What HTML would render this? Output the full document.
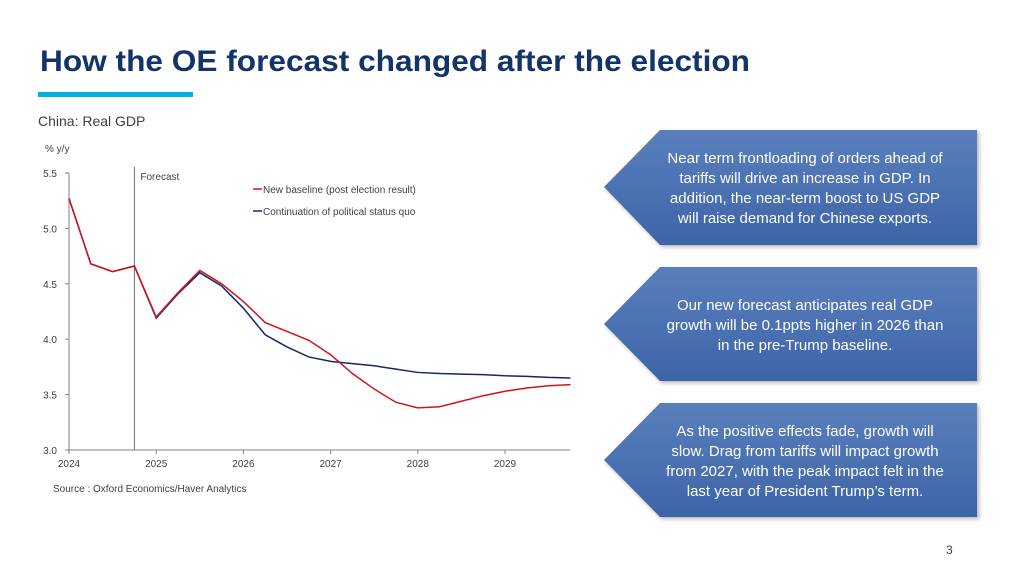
<!DOCTYPE html>
<html><head><meta charset="utf-8"><style>
body{margin:0;background:#fff;font-family:"Liberation Sans",sans-serif;}
#wrap{position:relative;width:1024px;height:576px;overflow:hidden;background:#fff;}
</style></head><body>
<div id="wrap">
<svg id="svg" width="1024" height="576" viewBox="0 0 1024 576">
<defs>
<linearGradient id="g" x1="0" y1="0" x2="0" y2="1"><stop offset="0" stop-color="#5a7fbd"/><stop offset="1" stop-color="#3d64a8"/></linearGradient>
<filter id="sh" x="-10%" y="-10%" width="130%" height="130%"><feDropShadow dx="2" dy="2" stdDeviation="2" flood-color="#000" flood-opacity="0.3"/></filter>
</defs>
<text x="40" y="71" font-size="30" font-weight="bold" fill="#13336b" textLength="710" lengthAdjust="spacingAndGlyphs">How the OE forecast changed after the election</text>
<rect x="38" y="92" width="155" height="5" fill="#00b0e0"/>
<text x="38" y="126" font-size="14" fill="#404040">China: Real GDP</text>
<text x="45" y="152" font-size="10" fill="#404040">% y/y</text>
<text x="53" y="492" font-size="10" fill="#404040">Source : Oxford Economics/Haver Analytics</text>
<g id="chart"></g>
<g filter="url(#sh)"><polygon points="604,187 660,130 977,130 977,245 660,245" fill="url(#g)"/>
<text font-size="15" fill="#fff" text-anchor="middle"><tspan x="805" y="163">Near term frontloading of orders ahead of</tspan><tspan x="805" y="183">tariffs will drive an increase in GDP. In</tspan><tspan x="805" y="203">addition, the near-term boost to US GDP</tspan><tspan x="805" y="223">will raise demand for Chinese exports.</tspan></text></g>
<g filter="url(#sh)"><polygon points="604,324 660,267 977,267 977,381 660,381" fill="url(#g)"/>
<text font-size="15" fill="#fff" text-anchor="middle"><tspan x="805" y="310">Our new forecast anticipates real GDP</tspan><tspan x="805" y="330">growth will be 0.1ppts higher in 2026 than</tspan><tspan x="805" y="350">in the pre-Trump baseline.</tspan></text></g>
<g filter="url(#sh)"><polygon points="604,460 660,403 977,403 977,517 660,517" fill="url(#g)"/>
<text font-size="15" fill="#fff" text-anchor="middle"><tspan x="805" y="436">As the positive effects fade, growth will</tspan><tspan x="805" y="456">slow. Drag from tariffs will impact growth</tspan><tspan x="805" y="476">from 2027, with the peak impact felt in the</tspan><tspan x="805" y="496">last year of President Trump’s term.</tspan></text></g>
<text x="946" y="554" font-size="12" fill="#404040">3</text>
</svg>
</div>
<script>
const years=["2024","2025","2026","2027","2028","2029"];
const yTicks=[3.0,3.5,4.0,4.5,5.0,5.5];
const newBaseline=[5.27,4.68,4.61,4.66,4.20,4.42,4.62,4.50,4.34,4.15,4.07,3.99,3.86,3.69,3.55,3.43,3.38,3.39,3.44,3.49,3.53,3.56,3.58,3.59];
const statusQuo=[5.27,4.68,4.61,4.66,4.19,4.41,4.60,4.48,4.28,4.04,3.93,3.84,3.80,3.78,3.76,3.73,3.70,3.69,3.685,3.68,3.67,3.665,3.655,3.65];
const forecastStart=3;
const NS="http://www.w3.org/2000/svg";
const g=document.getElementById('chart');
const X0=69,QW=21.8,Y0=450,YT=173;
function xq(i){return X0+i*QW;}
function y(v){return Y0-(v-3.0)/(5.5-3.0)*(Y0-YT);}
function mk(t,a){const e=document.createElementNS(NS,t);for(const k in a)e.setAttribute(k,a[k]);g.appendChild(e);return e;}
let e=mk('line',{x1:X0,y1:YT,x2:X0,y2:Y0,stroke:'#808080'});


e=mk('line',{x1:X0,y1:Y0,x2:xq(23),y2:Y0,stroke:'#808080'});


yTicks.forEach(v=>{
 let t=mk('line',{x1:X0-4,y1:y(v),x2:X0,y2:y(v),stroke:'#808080'});
 
 
 let l=mk('text',{x:X0-12,y:y(v)+4,'font-size':10,fill:'#404040','text-anchor':'end'});
 l.textContent=v.toFixed(1);
 
 
});
years.forEach((yr,i)=>{
 const x=xq(i*4);
 let t=mk('line',{x1:x,y1:Y0,x2:x,y2:Y0+4,stroke:'#808080'});
 
 
 let l=mk('text',{x:x,y:Y0+17,'font-size':10,fill:'#404040','text-anchor':'middle'});
 l.textContent=yr;
 
 
});
e=mk('line',{x1:xq(forecastStart),y1:YT-6,x2:xq(forecastStart),y2:Y0,stroke:'#707070'});


e=mk('text',{x:xq(forecastStart)+6,y:180,'font-size':10,fill:'#404040'});e.textContent='Forecast';


function line(arr,c){return mk('polyline',{points:arr.map((v,i)=>xq(i)+','+y(v)).join(' '),fill:'none',stroke:c,'stroke-width':1.5});}
e=line(statusQuo,'#13286b');


e=line(newBaseline,'#d0141c');


[['New baseline (post election result)','#d0141c',192],['Continuation of political status quo','#13286b',214]].forEach(([s,c,yy])=>{
 let l=mk('line',{x1:253,y1:yy-3,x2:262,y2:yy-3,stroke:c,'stroke-width':1.5});
 
 
 let t=mk('text',{x:263,y:yy+1,'font-size':10,fill:'#404040'});t.textContent=s;
 
 
});
</script>
</body></html>
